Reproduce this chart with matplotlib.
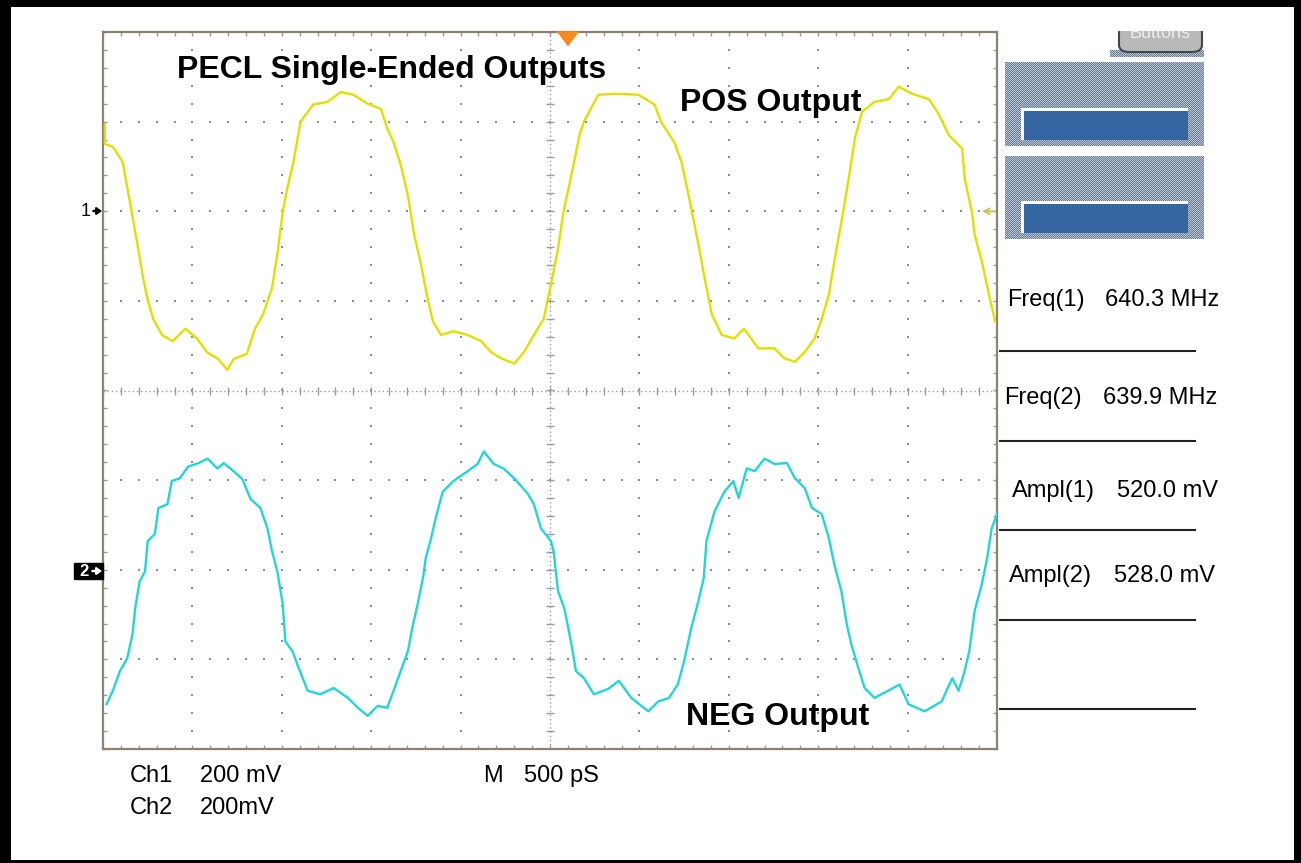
import numpy as np
import matplotlib
matplotlib.use('Agg')
import matplotlib.pyplot as plt
from matplotlib.patches import Rectangle, FancyBboxPatch, Polygon

# ---------------- data (time in divisions of 500 ps, amplitude in divisions of 200 mV) -------------
ch1_t = [0.02, 0.02, 0.11, 0.22, 0.30, 0.38, 0.45, 0.50, 0.56, 0.66, 0.78, 0.92, 1.05, 1.16, 1.29,
         1.39, 1.46, 1.61, 1.70, 1.79, 1.89, 1.95, 2.01, 2.06, 2.13, 2.21, 2.35, 2.51, 2.66, 2.80,
         2.96, 3.11, 3.18, 3.25, 3.33, 3.41, 3.48, 3.55, 3.63, 3.69, 3.78, 3.92, 4.08, 4.23, 4.34,
         4.45, 4.60, 4.71, 4.82, 4.93, 5.01, 5.09, 5.15, 5.20, 5.27, 5.33, 5.38, 5.54, 5.76, 5.99,
         6.17, 6.24, 6.39, 6.47, 6.55, 6.61, 6.67, 6.73, 6.81, 6.92, 7.06, 7.17, 7.33, 7.51, 7.62,
         7.74, 7.85, 7.96, 8.04, 8.12, 8.18, 8.26, 8.34, 8.41, 8.49, 8.63, 8.79, 8.90, 9.05, 9.24,
         9.35, 9.46, 9.61, 9.64, 9.72, 9.75, 9.83, 9.91, 9.98]
ch1_v = [2.97, 2.75, 2.72, 2.55, 2.11, 1.66, 1.25, 1.01, 0.80, 0.62, 0.55, 0.69, 0.58, 0.43, 0.35,
         0.23, 0.35, 0.41, 0.69, 0.85, 1.14, 1.52, 1.99, 2.25, 2.55, 3.00, 3.19, 3.22, 3.33, 3.30,
         3.20, 3.14, 2.92, 2.77, 2.52, 2.18, 1.74, 1.44, 1.03, 0.77, 0.62, 0.66, 0.62, 0.55, 0.43,
         0.36, 0.30, 0.43, 0.62, 0.80, 1.18, 1.58, 1.99, 2.22, 2.55, 2.85, 3.00, 3.30, 3.31, 3.30,
         3.19, 3.00, 2.77, 2.55, 2.18, 1.88, 1.58, 1.25, 0.85, 0.62, 0.58, 0.69, 0.47, 0.47, 0.36,
         0.32, 0.43, 0.58, 0.80, 1.07, 1.44, 1.88, 2.36, 2.81, 3.11, 3.22, 3.25, 3.39, 3.31, 3.25,
         3.08, 2.85, 2.70, 2.36, 1.99, 1.74, 1.44, 1.07, 0.77]

ch2_t = [0.04, 0.11, 0.19, 0.27, 0.33, 0.36, 0.41, 0.47, 0.50, 0.58, 0.62, 0.72, 0.77, 0.86, 0.95,
         1.07, 1.17, 1.28, 1.35, 1.46, 1.56, 1.65, 1.76, 1.84, 1.89, 1.95, 2.01, 2.04, 2.12, 2.19,
         2.29, 2.43, 2.58, 2.74, 2.85, 2.96, 3.07, 3.18, 3.25, 3.33, 3.41, 3.46, 3.52, 3.58, 3.61,
         3.67, 3.72, 3.80, 3.92, 4.08, 4.19, 4.26, 4.37, 4.48, 4.60, 4.75, 4.82, 4.90, 5.01, 5.04,
         5.09, 5.16, 5.24, 5.29, 5.38, 5.49, 5.65, 5.77, 5.91, 6.10, 6.21, 6.33, 6.43, 6.50, 6.58,
         6.66, 6.72, 6.75, 6.84, 6.95, 7.05, 7.11, 7.20, 7.29, 7.40, 7.51, 7.65, 7.74, 7.85, 7.93,
         8.04, 8.12, 8.18, 8.26, 8.32, 8.37, 8.45, 8.52, 8.63, 8.82, 8.91, 9.01, 9.19, 9.38, 9.50,
         9.57, 9.63, 9.69, 9.75, 9.83, 9.89, 9.94, 10.0]
ch2_v = [-3.50, -3.35, -3.13, -2.99, -2.72, -2.43, -2.13, -2.02, -1.68, -1.60, -1.31, -1.27, -1.01,
         -0.98, -0.85, -0.81, -0.76, -0.87, -0.81, -0.90, -0.99, -1.21, -1.31, -1.54, -1.79, -2.02,
         -2.38, -2.80, -2.91, -3.10, -3.35, -3.39, -3.32, -3.43, -3.54, -3.63, -3.52, -3.54, -3.35,
         -3.13, -2.91, -2.65, -2.38, -2.09, -1.87, -1.65, -1.43, -1.13, -1.01, -0.90, -0.82, -0.68,
         -0.82, -0.87, -0.98, -1.15, -1.27, -1.54, -1.68, -1.79, -2.24, -2.43, -2.83, -3.13, -3.21,
         -3.39, -3.33, -3.24, -3.43, -3.58, -3.47, -3.43, -3.28, -3.02, -2.65, -2.35, -2.09, -1.68,
         -1.35, -1.13, -1.01, -1.20, -0.87, -0.90, -0.76, -0.82, -0.81, -0.98, -1.09, -1.31, -1.38,
         -1.65, -1.94, -2.24, -2.61, -2.83, -3.10, -3.32, -3.43, -3.33, -3.28, -3.50, -3.58, -3.47,
         -3.21, -3.35, -3.16, -2.91, -2.46, -2.16, -1.87, -1.54, -1.38]

meas_labels = ['Freq(1)', 'Freq(2)', 'Ampl(1)', 'Ampl(2)']
meas_values = ['640.3 MHz', '639.9 MHz', '520.0 mV', '528.0 mV']
ch_names = ['Ch1', 'Ch2']
ch_scales = ['200 mV', '200mV']
timebase = '500 pS'

# ---------------- figure ----------------
W, H = 1301, 863
fig = plt.figure(figsize=(W / 100, H / 100), dpi=100)
fig.patch.set_facecolor('white')
FONT = ['Liberation Sans', 'DejaVu Sans']


def fx(x):
    return x / W


def fy(y):
    return 1 - y / H


L, R, T, B = 103, 997, 32, 749
ax = fig.add_axes([fx(L), fy(B), fx(R) - fx(L), fy(T) - fy(B)])
ax.set_xlim(0, 10)
ax.set_ylim(-4, 4)
ax.set_facecolor('white')
for s in ax.spines.values():
    s.set_color('#8a8272')
    s.set_linewidth(1.6)
minor = np.arange(0, 10.001, 0.2)
minor_y = np.arange(-4, 4.001, 0.2)
ax.set_xticks(minor)
ax.set_yticks(minor_y)
ax.tick_params(direction='in', length=3, width=1, color='#9a9a9a', top=True, right=True,
               labelbottom=False, labelleft=False)

gc = '#8c8c8c'
for xv in range(1, 10):
    if xv == 5:
        continue
    ax.scatter(np.full(len(minor_y), xv), minor_y, s=2.2, marker='s', color=gc, linewidths=0, zorder=1)
for yv in range(-3, 4):
    if yv == 0:
        continue
    ax.scatter(minor, np.full(len(minor), yv), s=2.2, marker='s', color=gc, linewidths=0, zorder=1)
# centre cross
ax.plot([5, 5], [-4, 4], color='#9a9a9a', lw=1, ls=(0, (1, 2)), zorder=1)
ax.plot([0, 10], [0, 0], color='#9a9a9a', lw=1, ls=(0, (1, 2)), zorder=1)
ax.plot(np.full(len(minor_y), 5), minor_y, ls='none', marker='_', ms=6, mew=1, color='#9a9a9a', zorder=1)
ax.plot(minor, np.zeros(len(minor)), ls='none', marker='|', ms=6, mew=1, color='#9a9a9a', zorder=1)

# traces
ax.plot(ch1_t, ch1_v, color='#e0e000', lw=1.7, zorder=5)
ax.plot(ch2_t, ch2_v, color='#22d6d6', lw=1.7, zorder=5)

# trigger marker (top) and trigger level arrow (right)
ax.add_patch(Polygon([[(558 - L) / 89.4, 4.0], [(578 - L) / 89.4, 4.0], [(568 - L) / 89.4, 3.85]],
                     closed=True, color='#f58a1f', zorder=6, clip_on=False))
ax.annotate('', xy=(9.8, 2.0), xytext=(10.0, 2.0),
            arrowprops=dict(arrowstyle='->', color='#c8c860', lw=1.5), zorder=6)

# titles
fig.text(fx(392), fy(70), 'PECL Single-Ended Outputs', ha='center', va='center', fontsize=23,
         fontweight='bold', family=FONT, color='black')
fig.text(fx(771), fy(103), 'POS Output', ha='center', va='center', fontsize=23,
         fontweight='bold', family=FONT, color='black')
fig.text(fx(778), fy(717), 'NEG Output', ha='center', va='center', fontsize=23,
         fontweight='bold', family=FONT, color='black')

# channel markers
fig.text(fx(91), fy(211), '1', ha='right', va='center', fontsize=13, family=FONT)
fig.add_artist(matplotlib.patches.FancyArrow(fx(93), fy(211), fx(101) - fx(93), 0, width=0.0012,
                                              head_width=0.008, head_length=0.004,
                                              length_includes_head=True, color='black'))
fig.add_artist(Rectangle((fx(74), fy(579)), fx(103) - fx(74), fy(563) - fy(579), color='black'))
fig.text(fx(84), fy(571), '2', ha='center', va='center', fontsize=12, color='white', family=FONT,
         fontweight='bold')
fig.add_artist(matplotlib.patches.FancyArrow(fx(92), fy(571), fx(101) - fx(92), 0, width=0.0012,
                                              head_width=0.008, head_length=0.004,
                                              length_includes_head=True, color='white'))

# bottom readout
for i, (nm, sc) in enumerate(zip(ch_names, ch_scales)):
    yy = 776 + i * 32
    fig.text(fx(130), fy(yy), nm, ha='left', va='center', fontsize=17, family=FONT)
    fig.text(fx(200), fy(yy), sc, ha='left', va='center', fontsize=17, family=FONT)
fig.text(fx(483), fy(776), 'M', ha='left', va='center', fontsize=17, family=FONT)
fig.text(fx(524), fy(776), timebase, ha='left', va='center', fontsize=17, family=FONT)


# right panel: checker boxes
def checker(w, h, dark=(0.40, 0.48, 0.57), light=(0.74, 0.78, 0.83)):
    jj, ii = np.meshgrid(np.arange(w), np.arange(h))
    m = ((ii + jj) % 2)[..., None]
    return np.where(m == 0, np.array(dark), np.array(light))


for (x0, y0, x1, y1) in [(1005, 62, 1204, 146), (1005, 156, 1204, 239), (1110, 50, 1204, 57)]:
    img = checker(x1 - x0, y1 - y0)
    fig.figimage(img, xo=x0, yo=H - y1, origin='upper', zorder=1)

for (by0, by1) in [(108, 140), (201, 233)]:
    fig.add_artist(Rectangle((fx(1021), fy(by1)), fx(1188) - fx(1021), fy(by0) - fy(by1),
                             facecolor='white', edgecolor='none', zorder=3))
    fig.add_artist(Rectangle((fx(1024), fy(by1)), fx(1188) - fx(1024), fy(by0 + 3) - fy(by1),
                             facecolor='#3565a0', edgecolor='none', zorder=4))

# "Buttons" soft key
fig.add_artist(FancyBboxPatch((fx(1119), fy(52)), fx(1202) - fx(1119), fy(26) - fy(52),
                              boxstyle='round,pad=0,rounding_size=0.008', facecolor='#b9b9b9',
                              edgecolor='#3e4650', lw=1.5, zorder=3))
fig.text(fx(1160), fy(33), 'Buttons', ha='center', va='center', fontsize=13, color='#eeeeee',
         family=FONT, zorder=4)
fig.add_artist(Rectangle((fx(1100), fy(31)), fx(1215) - fx(1100), fy(0) - fy(31),
                         facecolor='white', edgecolor='none', zorder=5))

# measurements
meas_y = [300, 398, 491, 576]
lab_x = [1007, 1004, 1012, 1009]
val_x = [1105, 1103, 1117, 1114]
for lab, val, yy, lx, vx in zip(meas_labels, meas_values, meas_y, lab_x, val_x):
    fig.text(fx(lx), fy(yy), lab, ha='left', va='center', fontsize=17, family=FONT)
    fig.text(fx(vx), fy(yy), val, ha='left', va='center', fontsize=17, family=FONT)
for ly in [351, 441, 530, 620, 709]:
    fig.add_artist(plt.Line2D([fx(1000), fx(1195)], [fy(ly), fy(ly)], color='#222222', lw=1.5))

# black outer frame
for (x0, y0, x1, y1) in [(0, 0, W, 7), (0, 0, 11, H), (1294, 0, W, H), (0, 860, W, H)]:
    fig.add_artist(Rectangle((fx(x0), fy(y1)), fx(x1) - fx(x0), fy(y0) - fy(y1),
                             facecolor='black', edgecolor='none', zorder=10))

fig.savefig('out.png', dpi=100, facecolor='white')
